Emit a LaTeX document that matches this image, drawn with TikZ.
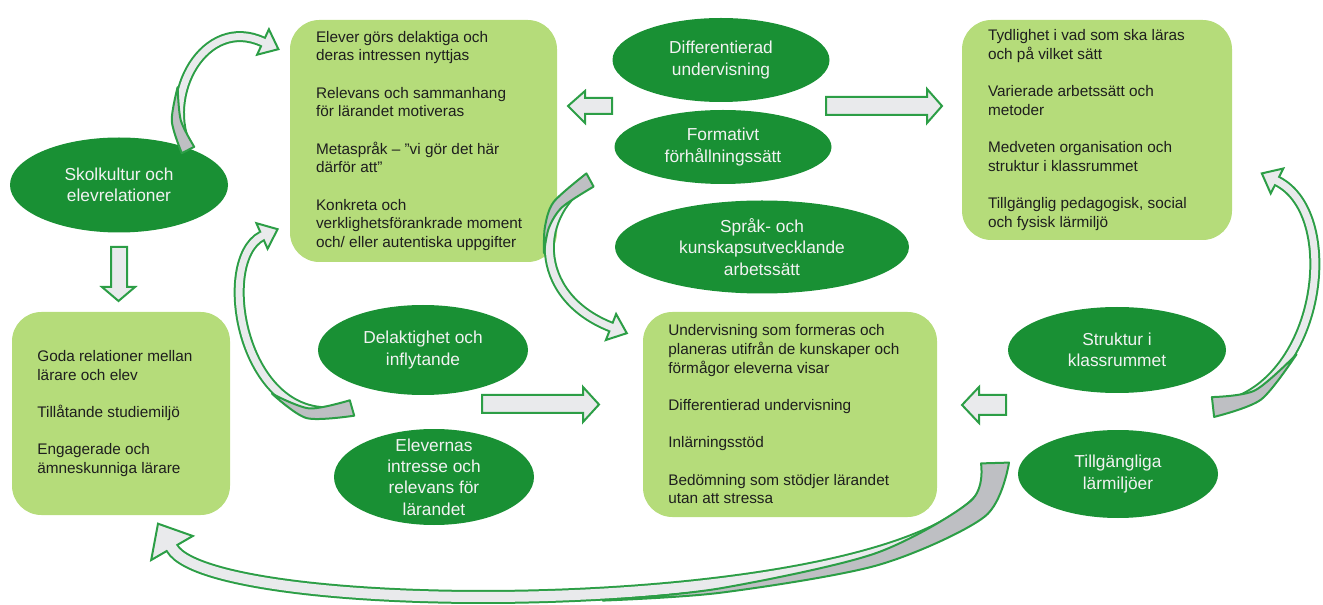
\documentclass[tikz,border=0pt]{standalone}
\usepackage{fontspec}
\setmainfont{Liberation Sans}
\usetikzlibrary{shapes.geometric}
\definecolor{boxg}{RGB}{181,220,122}
\definecolor{ellg}{RGB}{25,144,52}
\definecolor{arrg}{RGB}{44,158,70}
\definecolor{arrl}{RGB}{233,234,236}
\definecolor{arrd}{RGB}{190,191,195}
\definecolor{txt}{RGB}{30,30,30}
\definecolor{etxt}{RGB}{242,242,242}
\begin{document}
\begin{tikzpicture}[x=0.75pt,y=-0.75pt,
  box/.style={draw=none, fill=boxg, rounded corners=22pt, inner sep=0pt},
  btext/.style={anchor=west, align=left, inner sep=0pt, text=txt, font=\fontsize{11.5}{14}\selectfont},
  ell/.style={ellipse, fill=ellg, draw=none, inner sep=0pt},
  etext/.style={align=center, inner sep=0pt, text=etxt, font=\fontsize{13}{16}\selectfont},
  blockarrow/.style={fill=arrl, draw=arrg, line width=1.5pt, line join=miter},
  bandout/.style={draw=arrg, line width=8.25pt},
  bandin/.style={draw=arrl, line width=5.25pt},
  bigbandout/.style={draw=arrg, line width=10.5pt},
  bigbandin/.style={draw=arrl, line width=7.5pt},
  arrhead/.style={fill=arrl, draw=arrg, line width=1.5pt, line join=miter},
  crescent/.style={fill=arrd, draw=arrg, line width=1.5pt, line join=round}
]
\useasboundingbox (0,0) rectangle (1323,605);

% boxes
\node[box, minimum width=200.25pt, minimum height=181.5pt] (b1) at (423.5,141) {};
\node[box, minimum width=202.5pt, minimum height=165pt] (b2) at (1097,130) {};
\node[box, minimum width=163.5pt, minimum height=152.25pt] (b3) at (121,413.5) {};
\node[box, minimum width=220.5pt, minimum height=153.75pt] (b4) at (790,414.5) {};

% ellipses
\node[ell, minimum width=163.5pt, minimum height=71.25pt] (skol) at (119,185) {};
\node[ell, minimum width=162.75pt, minimum height=63pt] (diff) at (721,60) {};
\node[ell, minimum width=162.75pt, minimum height=55.5pt] (form) at (723,147) {};
\node[ell, minimum width=220.5pt, minimum height=69.75pt] (sprak) at (762,247) {};
\node[ell, minimum width=157.5pt, minimum height=67.5pt] (delak) at (423,350) {};
\node[ell, minimum width=150pt, minimum height=72pt] (elev) at (434,477) {};
\node[ell, minimum width=163.5pt, minimum height=64.5pt] (strukt) at (1117,350) {};
\node[ell, minimum width=150pt, minimum height=66pt] (tillg) at (1118,474) {};

% straight block arrows
\draw[blockarrow] (612,98) -- (585,98) -- (585,91) -- (568,106) -- (585,123) -- (585,114) -- (612,114) -- cycle;
\draw[blockarrow] (826,97) -- (927,97) -- (927,89) -- (942,106) -- (927,123) -- (927,115) -- (826,115) -- cycle;
\draw[blockarrow] (111,247) -- (127,247) -- (127,287) -- (135,287) -- (118.5,301) -- (102,287) -- (111,287) -- cycle;
\draw[blockarrow] (482,395) -- (583,395) -- (583,387) -- (599,404.5) -- (583,422) -- (583,413) -- (482,413) -- cycle;
\draw[blockarrow] (1006,395) -- (979,395) -- (979,387) -- (962,405) -- (979,423) -- (979,415) -- (1006,415) -- cycle;

% curved arrow 1: Skolkultur -> top box
\draw[bandout] (188,150) .. controls (160,95) and (205,15) .. (263,42);
\draw[arrhead] (257.1,54.7) -- (278.4,49.2) -- (268.9,29.3) -- cycle;
\draw[bandin] (188,150) .. controls (160,95) and (205,15) .. (263,42) -- (265.3,43.1);
\draw[crescent] plot[smooth] coordinates {(181.8,153.2) (171.8,121.2) (177.6,87.2)} -- plot[smooth] coordinates {(177.6,87.2) (180.8,120.4) (194.2,146.8)} -- cycle;

% curved arrow 2: lower middle -> top box
\draw[bandout] (352,408) .. controls (245,440) and (212,262) .. (262,236);
\draw[arrhead] (267.6,248.8) -- (277.6,229.2) -- (256.4,223.2) -- cycle;
\draw[bandin] (352,408) .. controls (245,440) and (212,262) .. (262,236) -- (264.3,235);
\draw[crescent] plot[smooth] coordinates {(354.2,415.7) (306.6,418.1) (272,393.7)} -- plot[smooth] coordinates {(272,393.7) (309.2,408.4) (349.8,400.3)} -- cycle;

% curved arrow 3: Formativt -> center box
\draw[bandout] (590,180) .. controls (535,210) and (530,295) .. (611,327);
\draw[arrhead] (605.9,340) -- (626.8,333.2) -- (616.1,314) -- cycle;
\draw[bandin] (590,180) .. controls (535,210) and (530,295) .. (611,327) -- (613.3,327.9);
\draw[crescent] plot[smooth] coordinates {(586.4,173.4) (553.8,201.8) (544.9,227.1) (544,253.1)} -- plot[smooth] coordinates {(544,253.1) (548.8,228.1) (562.2,207.1) (593.6,186.6)} -- cycle;

% curved arrow 4: Struktur -> top right box
\draw[bandout] (1213,407) .. controls (1320,395) and (1345,215) .. (1277,181);
\draw[arrhead] (1283.3,168.5) -- (1261.8,173.4) -- (1270.7,193.5) -- cycle;
\draw[bandin] (1213,407) .. controls (1320,395) and (1345,215) .. (1277,181) -- (1274.8,179.9);
\draw[crescent] plot[smooth] coordinates {(1214.1,416.9) (1261.1,399.5) (1296.5,354.3)} -- plot[smooth] coordinates {(1296.5,354.3) (1254.9,390.4) (1211.9,397.1)} -- cycle;

% curved arrow 5: Tillgangliga -> left box
\draw[bigbandout] (995,463) .. controls (1000,620) and (217,626) .. (172,548);
\draw[arrhead] (192.8,536) -- (158,523.7) -- (151.2,560) -- cycle;
\draw[bigbandin] (995,463) .. controls (1000,620) and (217,626) .. (172,548) -- (170.5,545.4);
\draw[crescent] plot[smooth] coordinates {(1009,462.6) (984.7,516.6) (878.3,565) (721.6,592.6) (602.7,600.6)} -- plot[smooth] coordinates {(602.7,600.6) (721,588.2) (874.9,553.5) (970.4,501.2) (981,463.4)} -- cycle;

% box texts
\node[btext] (t1) at ([xshift=19.5pt]b1.west) {Elever görs delaktiga och\\deras intressen nyttjas\\[14pt]Relevans och sammanhang\\för lärandet motiveras\\[14pt]Metaspråk – ”vi gör det här\\därför att”\\[14pt]Konkreta och\\verklighetsförankrade moment\\och/ eller autentiska uppgifter};
\node[btext] (t2) at ([xshift=19.5pt]b2.west) {Tydlighet i vad som ska läras\\och på vilket sätt\\[14pt]Varierade arbetssätt och\\metoder\\[14pt]Medveten organisation och\\struktur i klassrummet\\[14pt]Tillgänglig pedagogisk, social\\och fysisk lärmiljö};
\node[btext] (t3) at ([xshift=19pt]b3.west) {Goda relationer mellan\\lärare och elev\\[14pt]Tillåtande studiemiljö\\[14pt]Engagerade och\\ämneskunniga lärare};
\node[btext] (t4) at ([xshift=19pt]b4.west) {Undervisning som formeras och\\planeras utifrån de kunskaper och\\förmågor eleverna visar\\[14pt]Differentierad undervisning\\[14pt]Inlärningsstöd\\[14pt]Bedömning som stödjer lärandet\\utan att stressa};

% ellipse texts
\node[etext] (e1) at (skol) {Skolkultur och\\elevrelationer};
\node[etext] (e2) at (diff) {Differentierad\\undervisning};
\node[etext] (e3) at (form) {Formativt\\förhållningssätt};
\node[etext] (e4) at (sprak) {Språk- och\\kunskapsutvecklande\\arbetssätt};
\node[etext] (e5) at (delak) {Delaktighet och\\inflytande};
\node[etext] (e6) at (elev) {Elevernas\\intresse och\\relevans för\\lärandet};
\node[etext] (e7) at (strukt) {Struktur i\\klassrummet};
\node[etext] (e8) at (tillg) {Tillgängliga\\lärmiljöer};
\end{tikzpicture}
\end{document}
